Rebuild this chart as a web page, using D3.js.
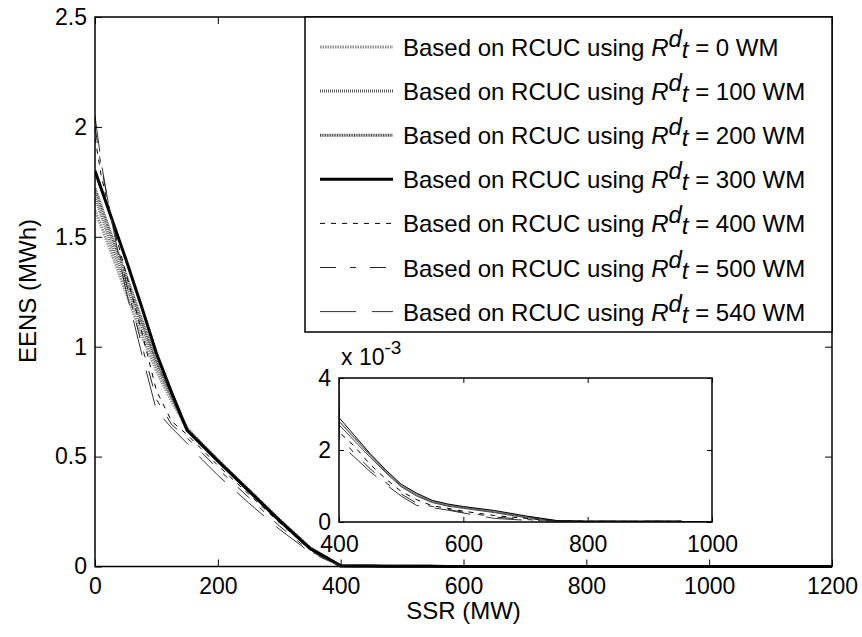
<!DOCTYPE html>
<html>
<head>
<meta charset="utf-8">
<script src="https://d3js.org/d3.v7.min.js"></script>
<style>
  body { margin: 0; background: #fff; }
  svg { display: block; font-family: "Liberation Sans", Arial, sans-serif; }
</style>
</head>
<body>
<div id="vis"></div>
<script>
// SSR grid (MW), shared by every curve
const ssr = [0, 10, 25, 50, 75, 100, 125, 150, 175, 200, 250, 300, 350, 375, 400,
  425, 450, 475, 500, 525, 550, 575, 600, 650, 700, 750, 800, 900, 950, 955, 1000, 1200];

// EENS (MWh) for each R^d_t setting
const eens0 = [1.62, 1.55, 1.44, 1.25, 1.06, 0.89, 0.75, 0.63, 0.555, 0.485, 0.35, 0.215, 0.085, 0.044, 0.0028,
  0.00235, 0.00188, 0.00143, 0.00103, 0.00078, 0.00058, 0.00048, 0.00042, 0.0003, 0.00016, 0.00004, 0.00002, 0.00002, 0.00002, 0, 0, 0];
const eens100 = [1.68, 1.60, 1.48, 1.29, 1.10, 0.92, 0.77, 0.625, 0.553, 0.483, 0.348, 0.212, 0.084, 0.044, 0.0028,
  0.00232, 0.00185, 0.0014, 0.001, 0.00075, 0.00056, 0.00046, 0.0004, 0.00028, 0.00014, 0.00003, 0.00002, 0.00002, 0.00002, 0, 0, 0];
const eens200 = [1.72, 1.64, 1.52, 1.33, 1.13, 0.94, 0.78, 0.62, 0.552, 0.482, 0.347, 0.211, 0.083, 0.043, 0.0027,
  0.00225, 0.0018, 0.00137, 0.00098, 0.00072, 0.00054, 0.00044, 0.00038, 0.00026, 0.00012, 0.00003, 0.00002, 0.00002, 0.00002, 0, 0, 0];
const eens300 = [1.80, 1.72, 1.60, 1.40, 1.19, 0.97, 0.79, 0.62, 0.55, 0.48, 0.345, 0.21, 0.082, 0.043, 0.0029,
  0.0024, 0.0019, 0.00145, 0.00105, 0.0008, 0.0006, 0.0005, 0.00043, 0.00032, 0.00017, 0.00004, 0.00002, 0.00002, 0.00002, 0, 0, 0];
const eens400 = [1.95, 1.78, 1.60, 1.34, 1.08, 0.80, 0.66, 0.60, 0.53, 0.46, 0.33, 0.20, 0.078, 0.04, 0.0025,
  0.0021, 0.0016, 0.0012, 0.00085, 0.00062, 0.00045, 0.00038, 0.0003, 0.00018, 0.0001, 0.00003, 0.00002, 0.00002, 0.00002, 0, 0, 0];
const eens500 = [2.00, 1.82, 1.61, 1.30, 1.02, 0.76, 0.645, 0.585, 0.515, 0.445, 0.315, 0.185, 0.07, 0.036, 0.0024,
  0.0019, 0.00148, 0.0011, 0.00078, 0.00052, 0.00043, 0.00035, 0.00027, 0.00014, 0.00007, 0.00002, 0.00002, 0.00002, 0.00002, 0, 0, 0];
const eens540 = [2.05, 1.84, 1.60, 1.26, 0.98, 0.71, 0.63, 0.56, 0.485, 0.415, 0.29, 0.17, 0.065, 0.032, 0.0022,
  0.0018, 0.0014, 0.00105, 0.00072, 0.00046, 0.0004, 0.00033, 0.00025, 0.0001, 0.00005, 0.00002, 0.00002, 0.00002, 0.00002, 0, 0, 0];

const rdValues = [0, 100, 200, 300, 400, 500, 540];
const xTicks = [0, 200, 400, 600, 800, 1000, 1200];
const yTicks = [0, 0.5, 1, 1.5, 2, 2.5];
const insetXTicks = [400, 600, 800, 1000];
const insetYTicks = [0, 0.002, 0.004];

const series = [eens0, eens100, eens200, eens300, eens400, eens500, eens540];

// how each curve is drawn, same order as series
const styles = [
  {color: "#8f8f8f", width: 3, dash: "1.5,1"},
  {color: "#5a5a5a", width: 3, dash: "1,1"},
  {color: "#454545", width: 3, dash: "1,0.7"},
  {color: "#000", width: 3, dash: null},
  {color: "#000", width: 1, dash: "5,6"},
  {color: "#222", width: 1, dash: "16,14,6,14"},
  {color: "#333", width: 1, dash: "36,16"}
];

const width = 862, height = 637;
const fontSize = 23;
const labelSize = 24;

const svg = d3.select("#vis").append("svg")
  .attr("width", width)
  .attr("height", height);

const x = d3.scaleLinear().domain([0, 1200]).range([95, 832]);
const y = d3.scaleLinear().domain([0, 2.5]).range([566.5, 17]);

const defs = svg.append("defs");
defs.append("clipPath").attr("id", "mainClip")
  .append("rect")
  .attr("x", x(0)).attr("y", y(2.5))
  .attr("width", x(1200) - x(0)).attr("height", y(0) - y(2.5) + 2);

const line = d3.line()
  .x((d, i) => x(ssr[i]))
  .y(d => y(d));

// main curves
svg.append("g")
  .attr("clip-path", "url(#mainClip)")
  .selectAll("path")
  .data(series)
  .join("path")
    .attr("fill", "none")
    .attr("stroke", (d, i) => styles[i].color)
    .attr("stroke-width", (d, i) => styles[i].width)
    .attr("stroke-dasharray", (d, i) => styles[i].dash)
    .attr("stroke-linejoin", "round")
    .attr("d", line);

// axes with inward ticks, MATLAB style
function drawAxes(g, xs, ys, xt, yt, tick, pad, yFormat) {
  g.append("g")
    .attr("transform", `translate(0,${ys.range()[0]})`)
    .call(d3.axisBottom(xs).tickValues(xt).tickSizeInner(-tick).tickSizeOuter(0).tickPadding(pad).tickFormat(d => d))
    .call(a => a.select(".domain").remove());
  g.append("g")
    .attr("transform", `translate(0,${ys.range()[1]})`)
    .call(d3.axisTop(xs).tickValues(xt).tickSizeInner(-tick).tickSizeOuter(0).tickFormat(""))
    .call(a => a.select(".domain").remove());
  g.append("g")
    .attr("transform", `translate(${xs.range()[0]},0)`)
    .call(d3.axisLeft(ys).tickValues(yt).tickSizeInner(-tick).tickSizeOuter(0).tickPadding(8).tickFormat(yFormat))
    .call(a => a.select(".domain").remove());
  g.append("g")
    .attr("transform", `translate(${xs.range()[1]},0)`)
    .call(d3.axisRight(ys).tickValues(yt).tickSizeInner(-tick).tickSizeOuter(0).tickFormat(""))
    .call(a => a.select(".domain").remove());
  g.selectAll(".tick text")
    .attr("font-size", fontSize)
    .attr("font-family", "Liberation Sans, Arial, sans-serif")
    .attr("fill", "#000");
  g.selectAll(".tick line").attr("stroke", "#000");
  g.append("rect")
    .attr("x", xs.range()[0]).attr("y", ys.range()[1])
    .attr("width", xs.range()[1] - xs.range()[0])
    .attr("height", ys.range()[0] - ys.range()[1])
    .attr("fill", "none")
    .attr("stroke", "#000")
    .attr("stroke-width", 1.5);
}

drawAxes(svg.append("g"), x, y, xTicks, yTicks, 7, 11, d3.format("~g"));

// axis titles
svg.append("text")
  .attr("x", (x(0) + x(1200)) / 2)
  .attr("y", 619)
  .attr("text-anchor", "middle")
  .attr("font-size", labelSize)
  .text("SSR (MW)");

svg.append("text")
  .attr("transform", "translate(36,291) rotate(-90)")
  .attr("text-anchor", "middle")
  .attr("font-size", labelSize)
  .text("EENS (MWh)");

// legend
const legend = svg.append("g");
legend.append("rect")
  .attr("x", 305).attr("y", y(2.5))
  .attr("width", x(1200) - 305).attr("height", 315)
  .attr("fill", "#fff")
  .attr("stroke", "#000")
  .attr("stroke-width", 1.5);

const rows = legend.selectAll("g.row")
  .data(rdValues)
  .join("g")
    .attr("class", "row")
    .attr("transform", (d, i) => `translate(0,${47 + i * 44.1})`);

rows.append("line")
  .attr("x1", 320).attr("x2", 393)
  .attr("stroke", (d, i) => styles[i].color)
  .attr("stroke-width", (d, i) => styles[i].width)
  .attr("stroke-dasharray", (d, i) => styles[i].dash);

const label = rows.append("text")
  .attr("x", 403)
  .attr("y", 9)
  .attr("font-size", labelSize);
label.append("tspan").text("Based on RCUC using ");
label.append("tspan").attr("font-style", "italic").text("R");
label.append("tspan").attr("font-style", "italic").attr("dy", -9).text("d");
label.append("tspan").attr("font-style", "italic").attr("dy", 11).text("t");
label.append("tspan").attr("dy", -2).text(d => ` = ${d} WM`);

// inset zoom on 400-1000 MW
const xi = d3.scaleLinear().domain([400, 1000]).range([339, 712]);
const yi = d3.scaleLinear().domain([0, 0.004]).range([522, 378]);

const inset = svg.append("g");
inset.append("rect")
  .attr("x", 339).attr("y", 378)
  .attr("width", 712 - 339).attr("height", 522 - 378)
  .attr("fill", "#fff");

defs.append("clipPath").attr("id", "insetClip")
  .append("rect")
  .attr("x", 339).attr("y", 378)
  .attr("width", 712 - 339).attr("height", 522 - 378);

const insetLine = d3.line()
  .x((d, i) => xi(ssr[i]))
  .y(d => yi(d));

inset.append("g")
  .attr("clip-path", "url(#insetClip)")
  .selectAll("path")
  .data(series)
  .join("path")
    .attr("fill", "none")
    .attr("stroke", (d, i) => styles[i].color)
    .attr("stroke-width", 1)
    .attr("stroke-dasharray", (d, i) => styles[i].width > 1 ? null : styles[i].dash)
    .attr("d", insetLine);

drawAxes(inset, xi, yi, insetXTicks, insetYTicks, 5, 14, d => d3.format("~g")(d * 1000));

const expo = inset.append("text")
  .attr("x", 341)
  .attr("y", 365)
  .attr("font-size", fontSize);
expo.append("tspan").text("x 10");
expo.append("tspan").attr("dy", -11).attr("font-size", 19).text("-3");
</script>
</body>
</html>
